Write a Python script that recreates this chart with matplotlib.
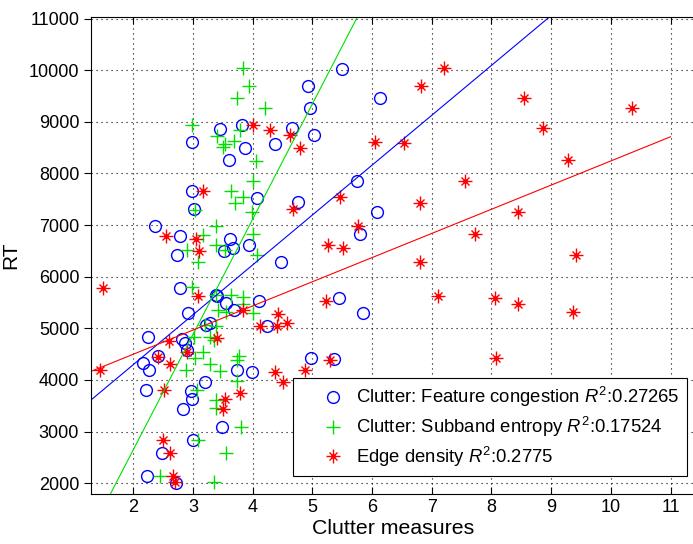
import matplotlib
matplotlib.use("Agg")
import matplotlib.pyplot as plt
import numpy as np
from matplotlib.legend_handler import HandlerTuple

plt.rcParams['font.family'] = ['Liberation Sans', 'DejaVu Sans']
plt.rcParams['mathtext.fontset'] = 'custom'
plt.rcParams['mathtext.it'] = 'Liberation Sans:italic'
plt.rcParams['mathtext.rm'] = 'Liberation Sans'

# Clutter: Feature congestion
fc_x = [4.92, 4.96, 5.02, 4.66, 3.82, 3.46, 2.98, 3.87, 3.60, 4.38, 2.99, 4.08, 4.76, 5.49, 6.13,
        5.74, 3.02, 2.37, 2.78, 2.74, 3.62, 3.52, 3.67, 3.94, 4.47, 2.78, 3.39, 3.41, 3.56, 3.69,
        4.10, 2.92, 3.28, 3.22, 4.24, 2.25, 2.82, 2.86, 2.90, 2.41, 4.97, 6.08, 5.80, 5.45, 5.85,
        5.37, 2.17, 2.26, 2.21, 3.73, 3.98, 3.20, 2.97, 2.99, 2.83, 3.49, 3.00, 2.48, 2.23, 2.71]
fc_y = [9690, 9260, 8745, 8885, 8930, 8855, 8600, 8500, 8255, 8575, 7660, 7530, 7440, 10030, 9465,
        7850, 7305, 6990, 6795, 6420, 6725, 6500, 6550, 6610, 6285, 5780, 5650, 5625, 5490, 5345,
        5520, 5295, 5100, 5055, 5050, 4830, 4800, 4715, 4570, 4455, 4430, 7250, 6825, 5585, 5305,
        4400, 4330, 4200, 3795, 4200, 4145, 3960, 3780, 3630, 3445, 3090, 2845, 2585, 2135, 2005]

# Clutter: Subband entropy
se_x = [3.84, 3.93, 3.73, 4.20, 2.98, 3.78, 3.41, 3.54, 3.68, 3.50, 4.06, 4.00, 3.63, 3.84, 3.70,
        3.98, 3.03, 3.39, 4.00, 3.17, 3.39, 3.53, 2.90, 4.08, 3.08, 2.98, 3.39, 3.64, 3.84, 3.83,
        3.42, 3.55, 4.00, 3.20, 3.39, 3.28, 3.36, 3.01, 3.17, 3.77, 3.03, 3.28, 3.73, 2.88, 3.45,
        3.73, 3.07, 3.39, 3.39, 3.81, 3.09, 3.55, 2.45, 3.36]
se_y = [10050, 9690, 9470, 9260, 8930, 8840, 8725, 8565, 8630, 8520, 8245, 7855, 7665, 7540, 7420,
        7260, 7290, 6990, 6820, 6810, 6615, 6520, 6520, 6420, 6290, 5800, 5650, 5650, 5605, 5475,
        5360, 5325, 5295, 5070, 5035, 4840, 4780, 4840, 4550, 4455, 4425, 4315, 4390, 4200, 4165,
        3970, 3810, 3615, 3455, 3090, 2845, 2585, 2135, 2015]

# Edge density
ed_x = [4.00, 4.29, 4.63, 4.80, 3.17, 7.21, 6.82, 8.54, 8.86, 6.05, 6.54, 7.56, 5.47, 10.36, 9.28,
        8.45, 9.41, 8.45, 9.36, 8.06, 4.67, 2.55, 3.05, 3.10, 1.50, 3.08, 3.84, 4.43, 4.12, 4.41,
        4.57, 2.59, 3.40, 2.90, 2.41, 5.22, 5.26, 6.80, 5.77, 7.73, 5.52, 6.80, 7.10, 8.07, 5.30,
        2.62, 1.44, 2.51, 3.54, 3.78, 3.51, 4.38, 4.50, 4.88, 2.50, 2.62, 2.67, 2.70]
ed_y = [8930, 8840, 8745, 8500, 7660, 10035, 9690, 9470, 8885, 8600, 8580, 7855, 7540, 9260, 8255,
        7255, 6415, 5475, 5310, 5585, 7305, 6790, 6725, 6500, 5780, 5630, 5360, 5280, 5050, 5050,
        5100, 4760, 4820, 4550, 4440, 5530, 6610, 7420, 6990, 6830, 6550, 6290, 5630, 4430, 4380,
        4310, 4200, 3810, 3635, 3745, 3440, 4155, 3960, 4200, 2845, 2585, 2135, 2015]

# Linear fits: (intercept at x=0, slope)
fc_fit = (3620 - 966 * 1.3, 966)
se_fit = (1800 - 2233 * 1.62, 2233)
ed_fit = (4170 - 468 * 1.3, 468)
fit_xrange = [1.29, 11.0]

labels = [r'Clutter: Feature congestion $R^2$:0.27265',
          r'Clutter: Subband entropy $R^2$:0.17524',
          r'Edge density $R^2$:0.2775']

W, H = 693, 544
fig = plt.figure(figsize=(W / 100, H / 100), dpi=100)
ax_l, ax_r, ax_t, ax_b = 91, 695, 17, 494
ax = fig.add_axes([ax_l / W, (H - ax_b) / H, (ax_r - ax_l) / W, (ax_b - ax_t) / H])

h1, = ax.plot(fc_x, fc_y, 'o', mfc='none', mec='#0000ff', ms=8.5, mew=1.0, ls='none')
h2, = ax.plot(se_x, se_y, '+', color='#00e000', ms=10, mew=1.0, ls='none')
h3a, = ax.plot(ed_x, ed_y, '+', color='#ff0000', ms=10, mew=1.0, ls='none')
h3b, = ax.plot(ed_x, ed_y, 'x', color='#ff0000', ms=6, mew=1.0, ls='none')
h3c, = ax.plot(ed_x, ed_y, 'o', color='#ff0000', ms=3.5, mew=0, ls='none')

xs = np.array(fit_xrange)
ax.plot(xs, fc_fit[0] + fc_fit[1] * xs, color='#0000ff', lw=0.8)
ax.plot(xs, se_fit[0] + se_fit[1] * xs, color='#00e000', lw=0.8)
ax.plot(xs, ed_fit[0] + ed_fit[1] * xs, color='#ff0000', lw=0.8)

ax.set_xlim(1.291, 11.41)
ax.set_ylim(1790, 11030)
ax.set_xticks(range(2, 12))
ax.set_yticks(range(2000, 11001, 1000))
ax.grid(True, color='black', linestyle=(0, (1, 3.5)), linewidth=0.8)
ax.tick_params(axis='x', direction='in', top=True, bottom=True, labelsize=13, length=5, width=0.8)
ax.tick_params(axis='y', direction='out', left=True, right=False, labelsize=13, length=5, width=0.8)
for s in ax.spines.values():
    s.set_linewidth(0.8)
ax.set_xlabel('Clutter measures', fontsize=15.3, labelpad=2)
ax.set_ylabel('RT', fontsize=15, labelpad=6)

leg = ax.legend([h1, h2, (h3a, h3b, h3c)], labels, loc='lower right',
                bbox_to_anchor=((687 - ax_l) / (ax_r - ax_l), (ax_b - 476) / (ax_b - ax_t)),
                fontsize=13.3, frameon=True, fancybox=False,
                edgecolor='black', framealpha=1, handlelength=3.57, handletextpad=-0.55,
                borderpad=0.4, labelspacing=0.3, borderaxespad=0.0,
                handler_map={tuple: HandlerTuple(ndivide=1)})
leg.get_frame().set_linewidth(0.8)

fig.savefig('out.png', dpi=100)
